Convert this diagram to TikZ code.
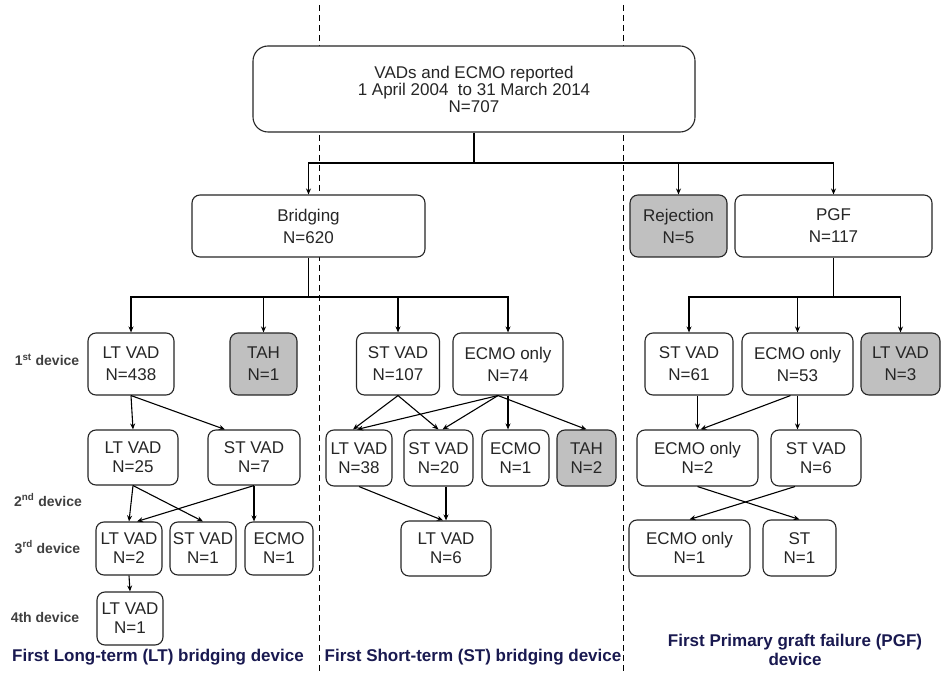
\documentclass[tikz,border=0pt]{standalone}
\usepackage{fontspec}
\setmainfont{Liberation Sans}
\usetikzlibrary{arrows.meta}
\usetikzlibrary{calc}
\definecolor{boxgray}{RGB}{192,192,192}
\definecolor{navy}{RGB}{25,25,80}

\begin{document}
\begin{tikzpicture}[x=1pt, y=1pt,
    box/.style={draw=black!85, fill=white, line width=1.1pt, rounded corners=8pt,
      align=center, inner sep=1.5pt, text=black!85, font=\fontsize{17}{19}\selectfont},
    boxsize/.style 2 args={minimum width=#1pt, minimum height=#2pt},
    tall/.style={font=\fontsize{17}{22}\selectfont},
    shaded/.style={fill=boxgray},
    link/.style={line width=1.1pt, -{Stealth[length=6pt,width=5pt]}},
    bus/.style={line width=1.1pt},
    devlabel/.style={font=\bfseries\fontsize{14}{16}\selectfont, text=black!75},
    caption/.style={font=\bfseries\fontsize{17}{19}\selectfont, text=navy, align=center},
    divider/.style={dash pattern=on 6pt off 4pt, line width=0.9pt}]

    \useasboundingbox (0,0) rectangle (942,673);

    % column dividers
    \draw[divider] (319,668) -- (319,0);
    \draw[divider] (623,668) -- (623,0);

    % top levels
    \node[box, boxsize={442}{86}, rounded corners=15pt,
      font=\fontsize{17}{17}\selectfont] (total) at (474,584)
      {VADs and ECMO reported\\1 April 2004 \ to 31 March 2014\\N=707};
    \node[box, tall, boxsize={233}{62}] (bridging) at (308.5,447) {Bridging\\N=620};
    \node[box, tall, shaded, boxsize={97}{62}] (rejection) at (678.5,447) {Rejection\\N=5};
    \node[box, tall, boxsize={197}{62}] (pgf) at (833.5,447) {PGF\\N=117};

    % 1st device
    \node[box, tall, boxsize={86}{62}] (lt1) at (131,309) {LT VAD\\N=438};
    \node[box, tall, shaded, boxsize={67}{62}] (tah1) at (263.5,309) {TAH\\N=1};
    \node[box, tall, boxsize={83}{62}] (st1) at (398,309) {ST VAD\\N=107};
    \node[box, tall, boxsize={110}{62}] (ecmo1) at (508,309) {ECMO only\\N=74};
    \node[box, tall, boxsize={88}{62}] (stp1) at (689,309) {ST VAD\\N=61};
    \node[box, tall, boxsize={111}{62}] (ecmop1) at (797.5,309) {ECMO only\\N=53};
    \node[box, tall, shaded, boxsize={79}{62}] (ltp1) at (900.5,309) {LT VAD\\N=3};

    % 2nd device
    \node[box, boxsize={90}{55}] (lt2) at (133,215.5) {LT VAD\\N=25};
    \node[box, boxsize={92}{55}] (st2) at (254,215.5) {ST VAD\\N=7};
    \node[box, boxsize={66}{56}] (lts2) at (359,215) {LT VAD\\N=38};
    \node[box, boxsize={69}{56}] (sts2) at (438.5,215) {ST VAD\\N=20};
    \node[box, boxsize={67}{56}] (ecs2) at (515.5,215) {ECMO\\N=1};
    \node[box, shaded, boxsize={59}{56}] (tahs2) at (586.5,215) {TAH\\N=2};
    \node[box, boxsize={121}{56}] (ecp2) at (697.5,215) {ECMO only\\N=2};
    \node[box, boxsize={90}{56}] (stp2) at (816,215) {ST VAD\\N=6};

    % 3rd device
    \node[box, boxsize={66}{53}] (lt3) at (129,124.5) {LT VAD\\N=2};
    \node[box, boxsize={66}{53}] (st3) at (203,124.5) {ST VAD\\N=1};
    \node[box, boxsize={68}{53}] (ec3) at (279,124.5) {ECMO\\N=1};
    \node[box, boxsize={90}{55}] (lts3) at (446,124.5) {LT VAD\\N=6};
    \node[box, boxsize={121}{56}] (ecp3) at (689.5,125) {ECMO only\\N=1};
    \node[box, boxsize={73}{56}] (stp3) at (799.5,125) {ST\\N=1};

    % 4th device
    \node[box, boxsize={66}{53}] (lt4) at (130,54.5) {LT VAD\\N=1};

    % row labels
    \node[devlabel] (dev1) at (47,313) {1\textsuperscript{st} device};
    \node[devlabel] (dev2) at (48,173) {2\textsuperscript{nd} device};
    \node[devlabel] (dev3) at (47.5,126) {3\textsuperscript{rd} device};
    \node[devlabel] (dev4) at (45,56) {4th device};

    % captions
    \node[caption] (capLT) at (158,16) {First Long-term (LT) bridging device};
    \node[caption] (capST) at (473,16) {First Short-term (ST) bridging device};
    \node[caption] (capPGF) at (795,23.5) {First Primary graft failure (PGF)\\device};

    % split of all reports
    \coordinate (hub) at (474,510);
    \draw[bus] (total.south) -- (hub);
    \draw[link] (hub) -| (bridging.north);
    \draw[link] (hub) -| (rejection.north);
    \draw[link] (hub) -| (pgf.north);

    % bridging to 1st device
    \coordinate (bhub) at (308.5,376);
    \draw[bus] (bridging.south) -- (bhub);
    \draw[link] (bhub) -| (lt1.north);
    \draw[link] (bhub) -| (tah1.north);
    \draw[link] (bhub) -| (st1.north);
    \draw[link] (bhub) -| (ecmo1.north);

    % pgf to 1st device
    \coordinate (phub) at (833.5,376);
    \draw[bus] (pgf.south) -- (phub);
    \draw[link] (phub) -| (stp1.north);
    \draw[link] (phub) -| (ecmop1.north);
    \draw[link] (phub) -| (ltp1.north);

    % long-term column
    \draw[link] (lt1.south) -- (lt2.north);
    \draw[link] (lt1.south) -- ($(st2.north)+(-29,0)$);
    \draw[link] (lt2.south) -- (lt3.north);
    \draw[link] (lt2.south) -- (st3.north);
    \draw[link] (st2.south) -- ($(lt3.north)+(8,0)$);
    \draw[link] (st2.south) -- (st2.south |- ec3.north);
    \draw[link] (lt3.south) -- (lt4.north);

    % short-term column
    \draw[link] (st1.south) -- ($(lts2.north)+(-6,0)$);
    \draw[link] (st1.south) -- (sts2.north);
    \draw[link] ($(ecmo1.south)+(-10,0)$) -- ($(lts2.north)+(-2,0)$);
    \draw[link] ($(ecmo1.south)+(-10,0)$) -- ($(sts2.north)+(4,0)$);
    \draw[link] (ecmo1.south) -- (ecmo1.south |- ecs2.north);
    \draw[link] ($(ecmo1.south)+(-10,0)$) -- (tahs2.north);
    \draw[link] (lts2.south) -- ($(lts3.north)+(-3,0)$);
    \draw[link] (lts3.north |- sts2.south) -- (lts3.north);

    % pgf column
    \draw[link] (ecp2.north |- stp1.south) -- (ecp2.north);
    \draw[link] ($(ecmop1.south)+(-7,0)$) -- ($(ecp2.north)+(3,0)$);
    \draw[link] (ecmop1.south) -- (ecmop1.south |- stp2.north);
    \draw[link] (ecp2.south) -- (stp3.north);
    \draw[link] ($(stp2.south)+(-21,0)$) -- (ecp3.north);

\end{tikzpicture}
\end{document}
